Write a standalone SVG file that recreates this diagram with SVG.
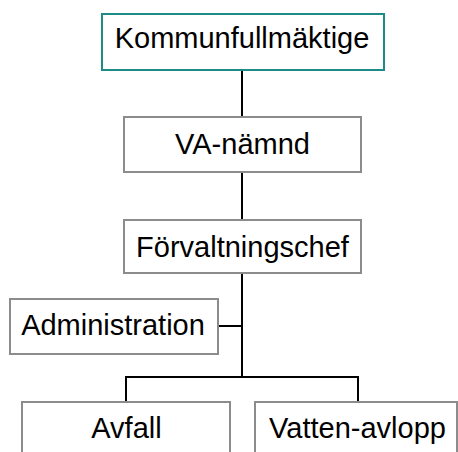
<svg xmlns="http://www.w3.org/2000/svg" width="458" height="452" viewBox="0 0 458 452">
<style>
.box{fill:#fff;stroke:#8c8c8c;stroke-width:2}
.top{fill:#fff;stroke:#1f8b86;stroke-width:2}
.lbl{font-family:"Liberation Sans",Arial,sans-serif;font-size:29px;fill:#000;text-anchor:middle}
.ln{stroke:#000;stroke-width:2;fill:none}
</style>
<rect width="458" height="452" fill="#fff"/>
<g id="connectors">
<line class="ln" x1="242" y1="70" x2="242" y2="117"/>
<line class="ln" x1="242" y1="172" x2="242" y2="220"/>
<line class="ln" x1="242" y1="273" x2="242" y2="377"/>
<line class="ln" x1="218" y1="326" x2="242" y2="326"/>
<polyline class="ln" points="126,401 126,377 358,377 358,401"/>
</g>
<g id="kommunfullmaktige">
<rect class="top" x="102" y="14" width="282" height="56"/>
<text class="lbl" x="242" y="47.5">Kommunfullmäktige</text>
</g>
<g id="va-namnd">
<rect class="box" x="124" y="117" width="237" height="55"/>
<text class="lbl" x="242.5" y="153.5">VA-nämnd</text>
</g>
<g id="forvaltningschef">
<rect class="box" x="124" y="220" width="237" height="53"/>
<text class="lbl" x="242.5" y="256.5">Förvaltningschef</text>
</g>
<g id="administration">
<rect class="box" x="10" y="299" width="208" height="55"/>
<text class="lbl" x="113" y="334.5">Administration</text>
</g>
<g id="avfall">
<rect class="box" x="22" y="402" width="208" height="60"/>
<text class="lbl" x="126.5" y="437.5">Avfall</text>
</g>
<g id="vatten-avlopp">
<rect class="box" x="255" y="402" width="202" height="60"/>
<text class="lbl" x="357.5" y="437.5">Vatten-avlopp</text>
</g>
</svg>
